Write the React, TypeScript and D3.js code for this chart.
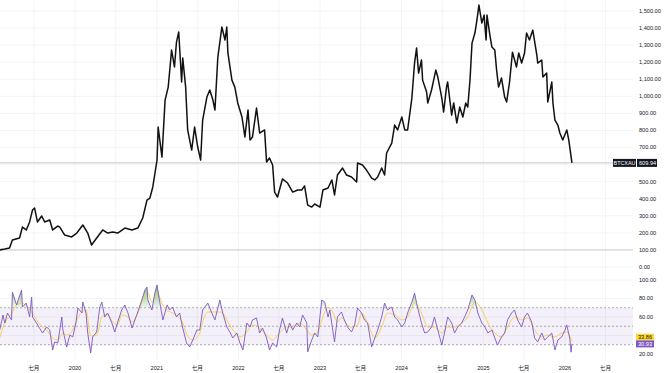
import React, { useRef, useEffect } from 'react';
import * as d3 from 'd3';

// BTC priced in gold
const btcXau: [string, number][] = [
  ['2019-01-29', 100], ['2019-02-21', 105], ['2019-03-14', 111], ['2019-03-27', 158], ['2019-04-28', 170],
  ['2019-05-11', 234], ['2019-05-28', 217], ['2019-06-12', 264], ['2019-06-25', 334], ['2019-07-04', 346],
  ['2019-07-17', 264], ['2019-08-05', 299], ['2019-08-18', 264], ['2019-09-10', 275], ['2019-09-23', 217],
  ['2019-10-16', 240], ['2019-10-25', 234], ['2019-11-16', 187], ['2019-12-17', 176], ['2020-01-09', 199],
  ['2020-02-05', 246], ['2020-02-27', 199], ['2020-03-15', 129], ['2020-04-07', 170], ['2020-05-04', 217],
  ['2020-05-26', 199], ['2020-06-18', 205], ['2020-07-10', 199], ['2020-08-11', 228], ['2020-09-12', 217],
  ['2020-10-08', 228], ['2020-10-30', 287], ['2020-11-18', 392], ['2020-12-01', 404], ['2020-12-14', 469],
  ['2021-01-02', 627], ['2021-01-07', 820], ['2021-01-24', 644], ['2021-02-07', 978], ['2021-02-21', 1054],
  ['2021-03-08', 1271], ['2021-03-21', 1172], ['2021-03-30', 1318], ['2021-04-09', 1377], ['2021-04-22', 1084],
  ['2021-04-27', 1224], ['2021-05-10', 1054], ['2021-05-19', 803], ['2021-05-28', 744], ['2021-06-06', 685],
  ['2021-06-19', 820], ['2021-07-03', 703], ['2021-07-16', 627], ['2021-07-25', 861], ['2021-08-13', 996],
  ['2021-08-26', 1037], ['2021-09-09', 978], ['2021-09-18', 920], ['2021-10-01', 1230], ['2021-10-19', 1406],
  ['2021-11-02', 1330], ['2021-11-10', 1406], ['2021-11-15', 1254], ['2021-12-03', 1095], ['2021-12-16', 1054],
  ['2021-12-29', 961], ['2022-01-17', 879], ['2022-01-30', 762], ['2022-02-13', 920], ['2022-02-22', 744],
  ['2022-03-05', 762], ['2022-03-23', 931], ['2022-04-06', 785], ['2022-04-28', 803], ['2022-05-07', 615],
  ['2022-05-20', 639], ['2022-06-03', 598], ['2022-06-12', 439], ['2022-06-25', 410], ['2022-07-17', 516],
  ['2022-08-09', 492], ['2022-09-01', 439], ['2022-09-23', 451], ['2022-10-11', 451], ['2022-10-24', 475],
  ['2022-11-07', 363], ['2022-11-25', 351], ['2022-12-08', 369], ['2023-01-01', 351], ['2023-01-14', 451],
  ['2023-02-06', 463], ['2023-02-23', 510], ['2023-03-07', 422], ['2023-03-20', 539], ['2023-04-12', 580],
  ['2023-04-30', 539], ['2023-05-22', 527], ['2023-06-14', 498], ['2023-06-18', 609], ['2023-07-10', 598],
  ['2023-07-28', 568], ['2023-08-20', 521], ['2023-09-03', 510], ['2023-09-16', 527], ['2023-10-04', 580],
  ['2023-10-17', 539], ['2023-10-26', 668], ['2023-11-18', 726], ['2023-12-01', 832], ['2023-12-14', 803],
  ['2024-01-02', 879], ['2024-01-15', 803], ['2024-01-28', 803], ['2024-02-16', 990], ['2024-02-28', 1195],
  ['2024-03-08', 1283], ['2024-03-17', 1136], ['2024-03-30', 1213], ['2024-04-04', 1095], ['2024-04-22', 1025],
  ['2024-04-27', 961], ['2024-05-14', 1037], ['2024-06-02', 1154], ['2024-06-11', 1113], ['2024-06-29', 990],
  ['2024-07-07', 908], ['2024-07-20', 1054], ['2024-07-25', 1084], ['2024-08-12', 890], ['2024-08-21', 961],
  ['2024-09-04', 844], ['2024-09-17', 937], ['2024-10-01', 879], ['2024-10-14', 961], ['2024-10-23', 937],
  ['2024-11-02', 1095], ['2024-11-11', 1312], ['2024-11-24', 1371], ['2024-12-03', 1447], ['2024-12-12', 1535],
  ['2024-12-25', 1429], ['2025-01-04', 1476], ['2025-01-13', 1330], ['2025-01-17', 1476], ['2025-01-30', 1359],
  ['2025-02-08', 1289], ['2025-02-21', 1271], ['2025-03-01', 1154], ['2025-03-10', 1054], ['2025-03-23', 1107],
  ['2025-04-06', 996], ['2025-04-15', 967], ['2025-04-28', 1084], ['2025-05-11', 1259], ['2025-05-29', 1172],
  ['2025-06-08', 1254], ['2025-06-21', 1195], ['2025-07-04', 1254], ['2025-07-13', 1371], ['2025-07-26', 1330],
  ['2025-08-10', 1388], ['2025-08-28', 1242], ['2025-09-01', 1195], ['2025-09-19', 1213], ['2025-09-24', 1113],
  ['2025-10-11', 1136], ['2025-10-16', 967], ['2025-11-03', 1084], ['2025-11-08', 961], ['2025-11-17', 861],
  ['2025-11-30', 832], ['2025-12-09', 785], ['2025-12-22', 744], ['2026-01-09', 803], ['2026-01-18', 744],
  ['2026-02-01', 609.94],
];

// RSI(14)
const rsi: [string, number][] = [
  ['2019-01-29', 45.9], ['2019-02-13', 62.2], ['2019-02-21', 53.5], ['2019-03-05', 64.3], ['2019-03-23', 56.8],
  ['2019-03-27', 87.0], ['2019-04-15', 73.0], ['2019-04-19', 76.2], ['2019-05-07', 89.2], ['2019-05-11', 70.8],
  ['2019-05-28', 75.1], ['2019-06-12', 60.0], ['2019-06-21', 81.6], ['2019-06-25', 60.0], ['2019-07-13', 53.5],
  ['2019-07-26', 48.1], ['2019-08-09', 42.7], ['2019-08-27', 49.2], ['2019-09-10', 45.9], ['2019-09-23', 24.3],
  ['2019-10-02', 33.0], ['2019-10-16', 31.9], ['2019-11-03', 60.0], ['2019-11-08', 45.9], ['2019-11-25', 27.6],
  ['2019-12-09', 40.5], ['2019-12-22', 38.4], ['2020-01-05', 53.5], ['2020-01-14', 69.7], ['2020-02-01', 64.3],
  ['2020-02-05', 76.2], ['2020-02-19', 64.3], ['2020-02-27', 42.7], ['2020-03-11', 21.1], ['2020-03-20', 38.4],
  ['2020-04-07', 43.8], ['2020-04-21', 70.8], ['2020-04-30', 76.2], ['2020-05-13', 60.0], ['2020-05-26', 64.3],
  ['2020-06-14', 53.5], ['2020-06-27', 43.8], ['2020-07-10', 54.6], ['2020-07-28', 67.6], ['2020-08-11', 73.0],
  ['2020-08-25', 64.3], ['2020-09-12', 48.1], ['2020-09-25', 56.8], ['2020-10-08', 65.4], ['2020-10-26', 78.4],
  ['2020-11-09', 89.2], ['2020-11-18', 92.4], ['2020-11-22', 78.4], ['2020-12-10', 67.6], ['2020-12-23', 85.9],
  ['2021-01-02', 94.6], ['2021-01-15', 75.1], ['2021-01-28', 56.8], ['2021-02-16', 73.0], ['2021-02-27', 67.6],
  ['2021-03-12', 70.8], ['2021-03-30', 60.0], ['2021-04-13', 64.3], ['2021-04-27', 48.1], ['2021-05-14', 31.9],
  ['2021-05-28', 27.6], ['2021-06-11', 35.1], ['2021-06-29', 45.9], ['2021-07-12', 45.9], ['2021-07-25', 67.6],
  ['2021-08-17', 75.1], ['2021-09-04', 64.3], ['2021-09-18', 56.8], ['2021-10-01', 69.7], ['2021-10-10', 78.4],
  ['2021-10-23', 64.3], ['2021-11-10', 49.2], ['2021-11-24', 43.8], ['2021-12-07', 37.3], ['2021-12-25', 42.7],
  ['2022-01-08', 31.9], ['2022-01-21', 24.3], ['2022-02-08', 53.5], ['2022-02-22', 49.2], ['2022-03-05', 56.8],
  ['2022-03-23', 58.9], ['2022-04-06', 42.7], ['2022-04-19', 48.1], ['2022-05-07', 37.3], ['2022-05-20', 24.3],
  ['2022-06-03', 31.9], ['2022-06-21', 27.6], ['2022-07-04', 45.9], ['2022-07-17', 58.9], ['2022-08-05', 42.7],
  ['2022-08-18', 53.5], ['2022-09-01', 45.9], ['2022-09-19', 53.5], ['2022-10-02', 49.2], ['2022-10-15', 62.2],
  ['2022-11-03', 53.5], ['2022-11-07', 22.2], ['2022-11-25', 35.1], ['2022-12-08', 42.7], ['2022-12-22', 38.4],
  ['2023-01-09', 78.4], ['2023-01-22', 76.2], ['2023-02-06', 60.0], ['2023-02-14', 67.6], ['2023-02-27', 45.9],
  ['2023-03-07', 33.0], ['2023-03-20', 60.0], ['2023-04-07', 65.4], ['2023-04-20', 56.8], ['2023-05-04', 49.2],
  ['2023-05-22', 43.8], ['2023-06-05', 51.4], ['2023-06-18', 69.7], ['2023-07-06', 64.3], ['2023-07-19', 56.8],
  ['2023-08-02', 53.5], ['2023-08-20', 27.6], ['2023-09-03', 37.3], ['2023-09-16', 45.9], ['2023-10-04', 60.0],
  ['2023-10-17', 75.1], ['2023-10-30', 67.6], ['2023-11-18', 70.8], ['2023-12-01', 60.0], ['2023-12-14', 56.8],
  ['2024-01-02', 49.2], ['2024-01-15', 53.5], ['2024-01-28', 64.3], ['2024-02-16', 76.2], ['2024-02-28', 85.9],
  ['2024-03-12', 70.8], ['2024-03-30', 53.5], ['2024-04-13', 42.7], ['2024-04-27', 43.8], ['2024-05-14', 49.2],
  ['2024-05-27', 60.0], ['2024-06-11', 45.9], ['2024-06-29', 29.7], ['2024-07-11', 42.7], ['2024-07-25', 60.0],
  ['2024-08-12', 53.5], ['2024-08-25', 42.7], ['2024-09-08', 49.2], ['2024-09-26', 53.5], ['2024-10-09', 60.0],
  ['2024-10-23', 67.6], ['2024-11-11', 83.8], ['2024-11-24', 78.4], ['2024-12-07', 64.3], ['2024-12-25', 53.5],
  ['2025-01-08', 49.2], ['2025-01-21', 42.7], ['2025-02-08', 45.9], ['2025-02-21', 37.3], ['2025-03-05', 29.7],
  ['2025-03-23', 38.4], ['2025-04-06', 42.7], ['2025-04-19', 56.8], ['2025-05-07', 64.3], ['2025-05-20', 67.6],
  ['2025-06-03', 56.8], ['2025-06-21', 49.2], ['2025-07-04', 60.0], ['2025-07-17', 64.3], ['2025-08-05', 54.6],
  ['2025-08-18', 37.3], ['2025-09-01', 33.0], ['2025-09-19', 42.7], ['2025-10-02', 35.1], ['2025-10-16', 38.4],
  ['2025-11-03', 42.7], ['2025-11-17', 24.3], ['2025-11-30', 35.1], ['2025-12-17', 38.4], ['2026-01-01', 45.9],
  ['2026-01-09', 51.4], ['2026-01-23', 36.0], ['2026-01-28', 22.0], ['2026-02-01', 30.93],
];

// RSI-based moving average
const rsiMa: [string, number][] = [
  ['2019-01-29', 37.3], ['2019-02-21', 53.5], ['2019-03-23', 63.2], ['2019-04-15', 73.0], ['2019-05-07', 75.1],
  ['2019-05-28', 71.9], ['2019-06-21', 65.4], ['2019-07-13', 56.8], ['2019-08-09', 49.2], ['2019-08-27', 45.9],
  ['2019-09-23', 37.3], ['2019-10-16', 35.1], ['2019-11-08', 42.7], ['2019-11-25', 40.5], ['2019-12-22', 45.9],
  ['2020-01-14', 58.9], ['2020-02-19', 67.6], ['2020-03-11', 39.5], ['2020-04-07', 40.5], ['2020-04-30', 60.0],
  ['2020-05-26', 63.2], ['2020-06-14', 55.7], ['2020-07-10', 51.4], ['2020-07-28', 62.2], ['2020-08-25', 60.0],
  ['2020-09-12', 54.6], ['2020-10-08', 64.3], ['2020-10-26', 76.2], ['2020-11-22', 85.9], ['2020-12-10', 76.2],
  ['2021-01-02', 85.9], ['2021-01-28', 73.0], ['2021-02-16', 67.6], ['2021-03-12', 64.3], ['2021-03-30', 61.1],
  ['2021-04-27', 53.5], ['2021-05-14', 41.6], ['2021-06-11', 35.1], ['2021-07-12', 42.7], ['2021-07-25', 54.6],
  ['2021-08-17', 65.4], ['2021-09-18', 65.4], ['2021-10-10', 65.4], ['2021-10-23', 64.3], ['2021-11-10', 56.8],
  ['2021-12-07', 45.9], ['2022-01-08', 38.4], ['2022-02-08', 43.8], ['2022-03-05', 51.4], ['2022-04-06', 48.1],
  ['2022-05-07', 40.5], ['2022-06-03', 35.1], ['2022-07-04', 42.7], ['2022-08-05', 49.2], ['2022-09-01', 49.2],
  ['2022-10-02', 53.5], ['2022-11-03', 45.9], ['2022-11-25', 40.5], ['2022-12-22', 43.8], ['2023-01-09', 56.8],
  ['2023-02-06', 70.8], ['2023-02-27', 65.4], ['2023-03-20', 54.6], ['2023-04-07', 58.9], ['2023-05-04', 51.4],
  ['2023-05-22', 49.2], ['2023-06-18', 51.4], ['2023-07-06', 64.3], ['2023-08-02', 53.5], ['2023-09-03', 37.3],
  ['2023-10-04', 49.2], ['2023-10-30', 64.3], ['2023-12-01', 62.2], ['2024-01-02', 56.8], ['2024-01-28', 60.0],
  ['2024-02-28', 75.1], ['2024-03-30', 64.3], ['2024-04-27', 49.2], ['2024-05-27', 49.2], ['2024-06-29', 42.7],
  ['2024-07-25', 49.2], ['2024-08-25', 49.2], ['2024-09-26', 53.5], ['2024-10-23', 60.0], ['2024-11-24', 76.2],
  ['2024-12-25', 67.6], ['2025-01-21', 53.5], ['2025-02-21', 42.7], ['2025-03-23', 38.4], ['2025-04-19', 49.2],
  ['2025-05-20', 60.0], ['2025-06-21', 56.8], ['2025-07-17', 58.9], ['2025-08-18', 45.9], ['2025-09-19', 38.4],
  ['2025-10-16', 40.5], ['2025-11-17', 38.4], ['2025-12-17', 42.7], ['2026-01-09', 43.8], ['2026-02-01', 33.86],
];

const priceTicks = [0, 100, 200, 300, 400, 500, 700, 800, 900, 1000, 1100, 1200, 1300, 1400, 1500];
const rsiTicks = [20, 60, 80, 100];
const rsiLevels = [70, 50, 30];
const timeTickDates = ['2019-07-01', '2020-01-01', '2020-07-01', '2021-01-01', '2021-07-01', '2022-01-01', '2022-07-01',
  '2023-01-01', '2023-07-01', '2024-01-01', '2024-07-01', '2025-01-01', '2025-07-01', '2026-01-01', '2026-07-01'];
const timeTickLabels = ['七月', '2020', '七月', '2021', '七月', '2022', '七月', '2023', '七月', '2024', '七月', '2025', '七月', '2026', '七月'];
const symbol = 'BTCXAU';
const refLine = 100;

const FONT = "'Liberation Sans', Arial, 'Noto Sans CJK SC', sans-serif";

const App = () => {
  const ref = useRef<SVGSVGElement>(null);

  useEffect(() => {
    const svg = d3.select(ref.current);
    svg.selectAll('*').remove();

    const W = 664, H = 373;
    const paneRight = 633;
    const parse = d3.timeParse('%Y-%m-%d');

    const x = d3.scaleTime()
      .domain([parse('2020-01-01')!, parse('2026-01-01')!])
      .range([75, 565]);
    const yP = d3.scaleLinear().domain([0, 1500]).range([267, 11]);
    const yR = d3.scaleLinear().domain([20, 100]).range([354, 280]);

    svg.append('rect').attr('width', W).attr('height', H).attr('fill', '#ffffff');

    // grid
    const grid = svg.append('g');
    grid.selectAll('line.v').data(timeTickDates).join('line')
      .attr('x1', d => x(parse(d)!)).attr('x2', d => x(parse(d)!))
      .attr('y1', 0).attr('y2', 360)
      .attr('stroke', '#f3f4f6').attr('stroke-width', 1);
    grid.selectAll('line.h').data(priceTicks.concat([600])).join('line')
      .attr('x1', 0).attr('x2', paneRight)
      .attr('y1', d => yP(d)).attr('y2', d => yP(d))
      .attr('stroke', '#f3f4f6').attr('stroke-width', 1);
    grid.selectAll('line.r').data([100, 80, 60, 40]).join('line')
      .attr('x1', 0).attr('x2', paneRight)
      .attr('y1', d => yR(d)).attr('y2', d => yR(d))
      .attr('stroke', '#f3f4f6').attr('stroke-width', 1);

    // horizontal reference lines
    const last = btcXau[btcXau.length - 1][1];
    svg.append('line').attr('x1', 0).attr('x2', 613)
      .attr('y1', yP(last)).attr('y2', yP(last))
      .attr('stroke', '#c4c6cc').attr('stroke-width', 1);
    svg.append('line').attr('x1', 0).attr('x2', paneRight)
      .attr('y1', yP(refLine)).attr('y2', yP(refLine))
      .attr('stroke', '#c9cbd0').attr('stroke-width', 1);

    // price line
    const line = d3.line<[string, number]>()
      .x(d => x(parse(d[0])!))
      .y(d => yP(d[1]));
    svg.append('path').datum(btcXau)
      .attr('d', line)
      .attr('fill', 'none').attr('stroke', '#111111')
      .attr('stroke-width', 1.5).attr('stroke-linejoin', 'round');

    // RSI pane
    svg.append('rect')
      .attr('x', 0).attr('width', paneRight)
      .attr('y', yR(70)).attr('height', yR(30) - yR(70))
      .attr('fill', 'rgba(126,87,194,0.09)');
    svg.selectAll('line.lvl').data(rsiLevels).join('line')
      .attr('x1', 0).attr('x2', paneRight)
      .attr('y1', d => yR(d)).attr('y2', d => yR(d))
      .attr('stroke', '#9598a1').attr('stroke-width', 0.8)
      .attr('stroke-dasharray', '2,2');

    const defs = svg.append('defs');
    defs.append('clipPath').attr('id', 'ob').append('rect')
      .attr('x', 0).attr('y', 270).attr('width', paneRight).attr('height', yR(70) - 270);
    defs.append('clipPath').attr('id', 'os').append('rect')
      .attr('x', 0).attr('y', yR(30)).attr('width', paneRight).attr('height', 20);
    const gUp = defs.append('linearGradient').attr('id', 'gUp').attr('x1', 0).attr('x2', 0)
      .attr('gradientUnits', 'userSpaceOnUse')
      .attr('y1', yR(100)).attr('y2', yR(70));
    gUp.append('stop').attr('offset', 0).attr('stop-color', 'rgba(76,175,80,0.9)');
    gUp.append('stop').attr('offset', 1).attr('stop-color', 'rgba(76,175,80,0.1)');
    const gDn = defs.append('linearGradient').attr('id', 'gDn').attr('x1', 0).attr('x2', 0)
      .attr('gradientUnits', 'userSpaceOnUse')
      .attr('y1', yR(30)).attr('y2', yR(0));
    gDn.append('stop').attr('offset', 0).attr('stop-color', 'rgba(242,54,69,0.1)');
    gDn.append('stop').attr('offset', 1).attr('stop-color', 'rgba(242,54,69,0.9)');

    const areaUp = d3.area<[string, number]>()
      .x(d => x(parse(d[0])!)).y0(yR(70)).y1(d => yR(d[1]));
    const areaDn = d3.area<[string, number]>()
      .x(d => x(parse(d[0])!)).y0(yR(30)).y1(d => yR(d[1]));
    svg.append('path').datum(rsi).attr('d', areaUp)
      .attr('fill', 'url(#gUp)').attr('clip-path', 'url(#ob)');
    svg.append('path').datum(rsi).attr('d', areaDn)
      .attr('fill', 'url(#gDn)').attr('clip-path', 'url(#os)');

    const rline = d3.line<[string, number]>()
      .x(d => x(parse(d[0])!))
      .y(d => yR(d[1]));
    svg.append('path').datum(rsiMa).attr('d', rline.curve(d3.curveMonotoneX))
      .attr('fill', 'none').attr('stroke', '#f7cd45').attr('stroke-width', 0.9);
    svg.append('path').datum(rsi).attr('d', rline.curve(d3.curveLinear))
      .attr('fill', 'none').attr('stroke', '#7e57c2').attr('stroke-width', 0.9);

    // price scale labels
    const fmt = d3.format(',.2f');
    svg.append('g').selectAll('text').data(priceTicks).join('text')
      .attr('x', 639).attr('y', d => yP(d)).attr('dy', '0.35em')
      .attr('font-family', FONT).attr('font-size', 5.6).attr('fill', '#131722')
      .text(d => fmt(d));
    svg.append('g').selectAll('text').data(rsiTicks).join('text')
      .attr('x', 639).attr('y', d => yR(d)).attr('dy', '0.35em')
      .attr('font-family', FONT).attr('font-size', 5.6).attr('fill', '#131722')
      .text(d => fmt(d));

    // last price label
    const ly = yP(last);
    svg.append('rect').attr('x', 613).attr('y', ly - 4).attr('width', 23).attr('height', 8).attr('fill', '#131722');
    svg.append('rect').attr('x', 637).attr('y', ly - 4).attr('width', 20).attr('height', 8).attr('fill', '#131722');
    svg.append('text').attr('x', 624.5).attr('y', ly).attr('dy', '0.35em').attr('text-anchor', 'middle')
      .attr('font-family', FONT).attr('font-size', 5.4).attr('fill', '#ffffff').text(symbol);
    svg.append('text').attr('x', 639).attr('y', ly).attr('dy', '0.35em')
      .attr('font-family', FONT).attr('font-size', 5.6).attr('fill', '#ffffff').text(d3.format('.2f')(last));

    // RSI value labels
    const maLast = rsiMa[rsiMa.length - 1][1];
    const rsiLast = rsi[rsi.length - 1][1];
    const labels = [
      { v: maLast, y: yR(maLast) - 4, bg: '#fdd835', fg: '#131722' },
      { v: rsiLast, y: yR(rsiLast), bg: '#7e57c2', fg: '#ffffff' },
    ];
    labels.forEach(l => {
      svg.append('rect').attr('x', 636).attr('y', l.y - 3.5).attr('width', 18).attr('height', 7).attr('fill', l.bg);
      svg.append('text').attr('x', 638).attr('y', l.y).attr('dy', '0.35em')
        .attr('font-family', FONT).attr('font-size', 5.6).attr('fill', l.fg).text(d3.format('.2f')(l.v));
    });

    // time axis labels
    svg.append('g').selectAll('text').data(timeTickDates).join('text')
      .attr('x', d => x(parse(d)!)).attr('y', 368).attr('dy', '0.35em')
      .attr('text-anchor', 'middle')
      .attr('font-family', FONT).attr('font-size', 5.6).attr('fill', '#131722')
      .text((d, i) => timeTickLabels[i]);
  }, []);

  return (
    <svg ref={ref} width={664} height={373}
      style={{ position: 'absolute', left: 0, top: 0, display: 'block' }} />
  );
};

export default App;
